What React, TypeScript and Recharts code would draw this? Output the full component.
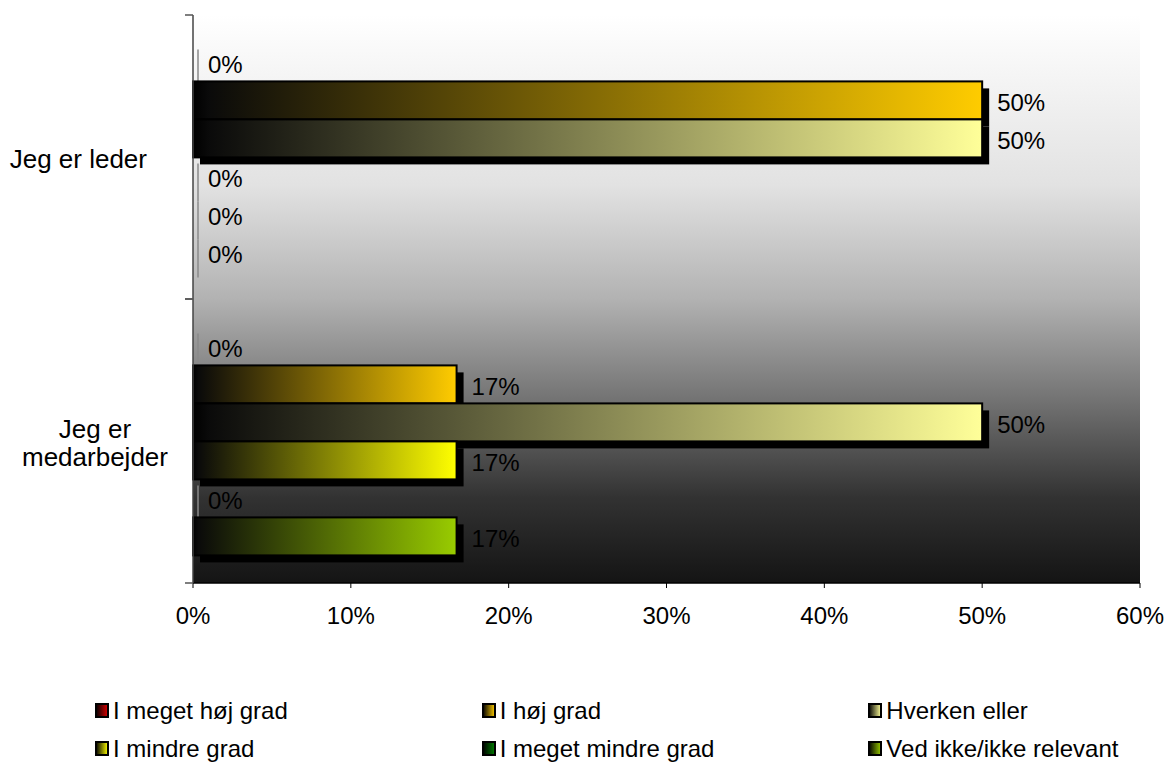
import React from 'react';
import {
  BarChart,
  Bar,
  XAxis,
  YAxis,
  CartesianGrid,
  LabelList,
} from 'recharts';

const CATEGORIES = ['Jeg er leder', 'Jeg er medarbejder'];
const CATEGORY_LINES: Record<string, string[]> = {
  'Jeg er leder': ['Jeg er leder'],
  'Jeg er medarbejder': ['Jeg er', 'medarbejder'],
};

const SERIES = [
  'I meget høj grad',
  'I høj grad',
  'Hverken eller',
  'I mindre grad',
  'I meget mindre grad',
  'Ved ikke/ikke relevant',
];

// one value per series, in the order above
const LEDER = [0, 50, 50, 0, 0, 0];
const MEDARBEJDER = [0, 16.7, 50, 16.7, 0, 16.7];

const X_TICKS = [0, 10, 20, 30, 40, 50, 60];

const COLORS = ['#E00000', '#FFCC00', '#FFFF99', '#FFFF00', '#008000', '#99CC00'];

const FONT = '"Liberation Sans", Arial, sans-serif';

const data = CATEGORIES.map((name, ci) => {
  const values = ci === 0 ? LEDER : MEDARBEJDER;
  const row: Record<string, any> = { name };
  SERIES.forEach((_, si) => {
    row['s' + si] = values[si];
  });
  return row;
});

const AXIS_X = 193;
const PLOT_TOP = 15;
const PLOT_BOTTOM = 583;
const BAND = (PLOT_BOTTOM - PLOT_TOP) / CATEGORIES.length;

const makeShape = (si: number) => (props: any) => {
  const { x, y, width, height } = props;
  if (!width || width < 0.5) {
    return (
      <line
        x1={x + 5}
        x2={x + 5}
        y1={y + 6}
        y2={y + height + 6}
        stroke="#8a8a8a"
        strokeWidth={1.5}
      />
    );
  }
  return (
    <g>
      <rect x={x + 7} y={y + 7} width={width} height={height} fill="#000" />
      <rect
        x={x}
        y={y}
        width={width}
        height={height}
        fill={`url(#bar-grad-${si})`}
        stroke="#000"
        strokeWidth={2}
      />
    </g>
  );
};

function CategoryTick(props: any) {
  const { y, payload } = props;
  const lines = CATEGORY_LINES[payload.value] || [payload.value];
  const lineH = 28;
  const startY = y + 2 - ((lines.length - 1) * lineH) / 2;
  const single = lines.length === 1;
  return (
    <g>
      <line x1={AXIS_X - 8} x2={AXIS_X} y1={y - BAND / 2} y2={y - BAND / 2} stroke="#555" strokeWidth={1.5} />
      <line x1={AXIS_X - 8} x2={AXIS_X} y1={y + BAND / 2} y2={y + BAND / 2} stroke="#555" strokeWidth={1.5} />
      {lines.map((ln, i) => (
        <text
          key={i}
          x={single ? 147 : 95}
          y={startY + i * lineH}
          dy="0.36em"
          textAnchor={single ? 'end' : 'middle'}
          fontSize={26}
          fontFamily={FONT}
          fill="#000"
        >
          {ln}
        </text>
      ))}
    </g>
  );
}

function LegendIcon({ index }: { index: number }) {
  return (
    <svg width={14} height={15} style={{ display: 'block' }}>
      <defs>
        <linearGradient id={`leg-grad-${index}`} x1="0" y1="0" x2="1" y2="0">
          <stop offset="0%" stopColor="#000" />
          <stop offset="100%" stopColor={COLORS[index]} />
        </linearGradient>
      </defs>
      <rect x={1} y={1} width={12} height={13} fill={`url(#leg-grad-${index})`} stroke="#000" strokeWidth={2} />
    </svg>
  );
}

export default function App() {
  return (
    <div
      style={{
        position: 'absolute',
        left: 0,
        top: 0,
        width: 1169,
        height: 762,
        background: '#fff',
        fontFamily: FONT,
      }}
    >
      <BarChart
        width={1169}
        height={640}
        data={data}
        layout="vertical"
        margin={{ top: PLOT_TOP, right: 29, left: 8, bottom: 0 }}
        barCategoryGap="10%"
        barGap={0}
      >
        <defs>
          <linearGradient id="plot-bg" x1="0" y1="0" x2="0" y2="1">
            <stop offset="0%" stopColor="#ffffff" />
            <stop offset="30%" stopColor="#e2e2e2" />
            <stop offset="50%" stopColor="#b2b2b2" />
            <stop offset="68%" stopColor="#727272" />
            <stop offset="85%" stopColor="#323232" />
            <stop offset="100%" stopColor="#141414" />
          </linearGradient>
          {COLORS.map((c, i) => (
            <linearGradient key={i} id={`bar-grad-${i}`} x1="0" y1="0" x2="1" y2="0">
              <stop offset="0%" stopColor="#000" />
              <stop offset="2%" stopColor="#0a0a0a" />
              <stop offset="100%" stopColor={c} />
            </linearGradient>
          ))}
        </defs>
        <CartesianGrid horizontal={false} vertical={false} fill="url(#plot-bg)" stroke="none" />
        <XAxis
          type="number"
          domain={[0, 60]}
          ticks={X_TICKS}
          tickFormatter={(v: number) => `${v}%`}
          height={57}
          tickSize={5}
          tickMargin={19}
          axisLine={{ stroke: '#000', strokeWidth: 1.5 }}
          tickLine={{ stroke: '#000' }}
          tick={{ fill: '#000', fontSize: 24, fontFamily: FONT }}
          interval={0}
        />
        <YAxis
          type="category"
          dataKey="name"
          width={185}
          axisLine={{ stroke: '#444', strokeWidth: 1.5 }}
          tickLine={false}
          tick={(p: any) => <CategoryTick {...p} />}
          interval={0}
        />
        {SERIES.map((s, si) => (
          <Bar
            key={s}
            dataKey={'s' + si}
            name={s}
            fill={COLORS[si]}
            shape={makeShape(si)}
            isAnimationActive={false}
          >
            <LabelList
              dataKey={'s' + si}
              position="right"
              offset={15}
              formatter={(v: any) => `${Math.round(Number(v))}%`}
              fill="#000"
              fontSize={24}
              fontFamily={FONT}
              dy={2}
            />
          </Bar>
        ))}
      </BarChart>

      <div style={{ position: 'absolute', left: 95, top: 699, width: 1160 }}>
        {[0, 1].map((row) => (
          <div key={row} style={{ display: 'flex', height: 38 }}>
            {SERIES.slice(row * 3, row * 3 + 3).map((s, k) => {
              const idx = row * 3 + k;
              return (
                <div key={s} style={{ width: 387, display: 'flex', alignItems: 'flex-start' }}>
                  <div style={{ marginTop: 4, marginRight: 4 }}>
                    <LegendIcon index={idx} />
                  </div>
                  <span style={{ fontSize: 24, lineHeight: '24px', color: '#000' }}>{s}</span>
                </div>
              );
            })}
          </div>
        ))}
      </div>
    </div>
  );
}
